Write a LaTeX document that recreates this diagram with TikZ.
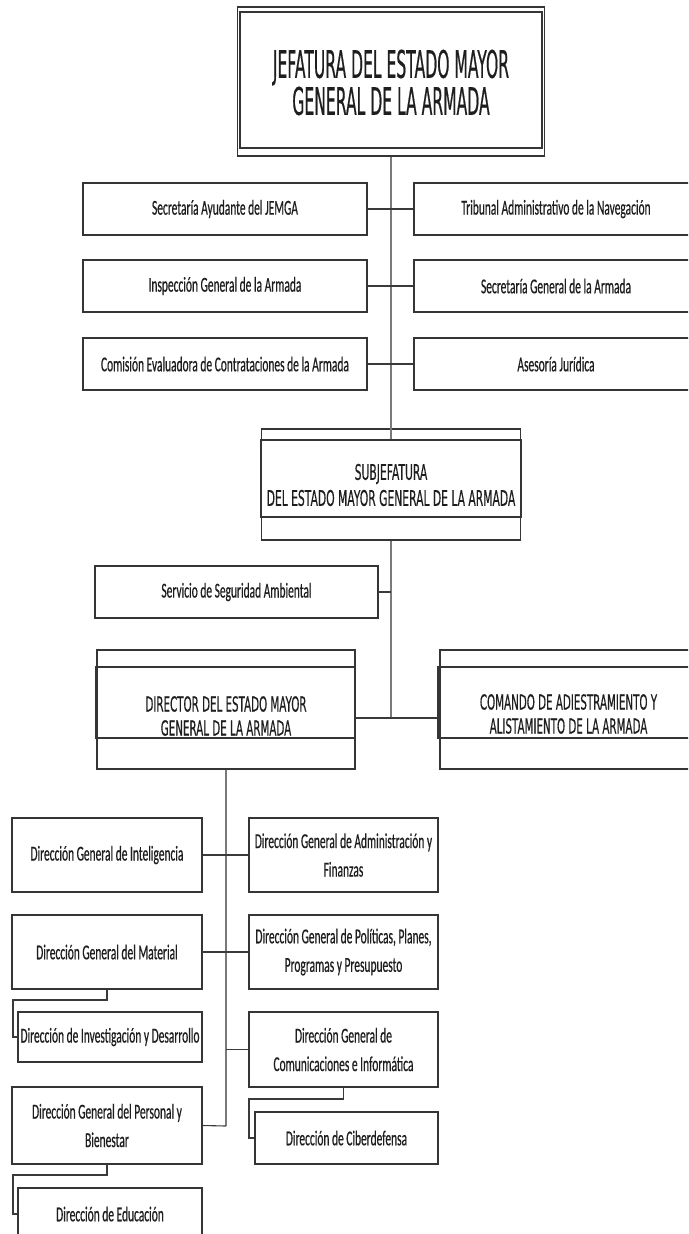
\documentclass[tikz,border=0pt]{standalone}
\usepackage{fontspec}
\newfontfamily\bodyff[FakeStretch=0.54,FakeBold=0.5]{Carlito}
\newfontfamily\capsA[FakeStretch=0.41,FakeBold=0.4]{DejaVu Sans}
\newfontfamily\capsB[FakeStretch=0.5,FakeBold=0.4]{DejaVu Sans}
\definecolor{boxc}{HTML}{353535}
\definecolor{textc}{HTML}{1E1E1E}
\definecolor{linec}{HTML}{3A3A3A}
\definecolor{vlinec}{HTML}{7A7A7A}
\tikzset{
  box/.style={draw=boxc, line width=1.25pt, inner sep=0pt, align=center, text=textc,
    font=\bodyff\fontsize{21.2}{28.5}\selectfont},
  frame/.style={draw=boxc, line width=1.25pt, inner sep=0pt},
  bigtext/.style={inner sep=0pt, align=center, text=textc, font=\capsA\fontsize{38}{37}\selectfont},
  midtext/.style={inner sep=0pt, align=center, text=textc, font=\capsB\fontsize{21.5}{26}\selectfont},
  smalltext/.style={inner sep=0pt, align=center, text=textc, font=\capsB\fontsize{20.6}{24}\selectfont},
  conn/.style={draw=linec, line width=1.1pt},
  vconn/.style={draw=vlinec, line width=1.1pt}
}
\begin{document}
\begin{tikzpicture}[x=1pt,y=-1pt]
\useasboundingbox (0,0) rectangle (688,1234);
\fill[white] (0,0) rectangle (688,1234);
\clip (0,0) rectangle (688,1234);

% top box
\node[frame, minimum width=307, minimum height=149] (topo) at (391,81.5) {};
\node[frame, minimum width=302, minimum height=136] (topi) at (391,80) {};
\node[bigtext] (topt) at (391,82.5) {JEFATURA DEL ESTADO MAYOR\\GENERAL DE LA ARMADA};

% rows
\node[box, minimum width=284, minimum height=52] (l1) at (225,209) {Secretaría Ayudante del JEMGA};
\node[box, minimum width=284, minimum height=52] (r1) at (556,209) {Tribunal Administrativo de la Navegación};
\node[box, minimum width=284, minimum height=52] (l2) at (225,286) {Inspección General de la Armada};
\node[box, minimum width=284, minimum height=52] (r2) at (556,286) {Secretaría General de la Armada};
\node[box, minimum width=284, minimum height=52] (l3) at (225,364) {Comisión Evaluadora de Contrataciones de la Armada};
\node[box, minimum width=284, minimum height=52] (r3) at (556,364) {Asesoría Jurídica};

% subjefatura
\node[frame, minimum width=259, minimum height=111] (subo) at (391,484.5) {};
\node[frame, minimum width=260, minimum height=77] (subi) at (391,478.5) {};
\node[midtext] (subt) at (391,485) {SUBJEFATURA\\DEL ESTADO MAYOR GENERAL DE LA ARMADA};

% servicio
\node[box, minimum width=283, minimum height=52] (serv) at (236.5,592) {Servicio de Seguridad Ambiental};

% director / comando
\node[frame, minimum width=258, minimum height=119] (diro) at (226,709.5) {};
\node[frame, minimum width=259, minimum height=71] (diri) at (225.5,702.5) {};
\node[smalltext] (dirt) at (226,716) {DIRECTOR DEL ESTADO MAYOR\\GENERAL DE LA ARMADA};
\node[frame, minimum width=258, minimum height=119] (como) at (569,709.5) {};
\node[frame, minimum width=260, minimum height=71] (comi) at (568,702.5) {};
\node[smalltext] (comt) at (568.5,714) {COMANDO DE ADIESTRAMIENTO Y\\ALISTAMIENTO DE LA ARMADA};

% bottom boxes
\node[box, minimum width=190, minimum height=74] (intel) at (107,855) {Dirección General de Inteligencia};
\node[box, minimum width=189, minimum height=74] (admin) at (343.5,855) {Dirección General de Administración y\\Finanzas};
\node[box, minimum width=190, minimum height=74] (mat) at (107,952) {Dirección General del Material};
\node[box, minimum width=189, minimum height=74] (pol) at (343.5,952) {Dirección General de Políticas, Planes,\\Programas y Presupuesto};
\node[box, minimum width=184, minimum height=50] (inv) at (110,1037) {Dirección de Investigación y Desarrollo};
\node[box, minimum width=189, minimum height=75] (comu) at (343.5,1049.5) {Dirección General de\\Comunicaciones e Informática};
\node[box, minimum width=190, minimum height=77] (pers) at (107,1125.5) {Dirección General del Personal y\\Bienestar};
\node[box, minimum width=183, minimum height=52] (cib) at (346.5,1138) {Dirección de Ciberdefensa};
\node[box, minimum width=184, minimum height=52] (edu) at (110,1214) {Dirección de Educación};

% coordinates
\coordinate (j1) at (391,718);
\coordinate (j2) at (226,1126);
\coordinate (m1) at (13,1000);
\coordinate (p1) at (13,1175);
\coordinate (c1) at (249,1099);

% connectors
\draw[vconn] (topo.south) -- (topo.south |- subi.north);
\draw[conn] (l1.east) -- (r1.west);
\draw[conn] (l2.east) -- (r2.west);
\draw[conn] (l3.east) -- (r3.west);
\draw[vconn] (subo.south) -- (j1);
\draw[conn] (serv.east) -- (serv.east -| j1);
\draw[conn] (diri.east |- j1) -- (comi.west |- j1);
\draw[vconn] (diro.south) -- (j2);
\draw[conn] (intel.east) -- (admin.west);
\draw[conn] (mat.east) -- (pol.west);
\draw[conn] (j2 |- comu.west) -- (comu.west);
\draw[conn] (pers.east) -- (j2);
\draw[conn] (mat.south) |- (m1) |- (inv.west);
\draw[conn] (pers.south) |- (p1) |- (edu.west);
\draw[conn] (comu.south) |- (c1) |- (cib.west);
\end{tikzpicture}
\end{document}
